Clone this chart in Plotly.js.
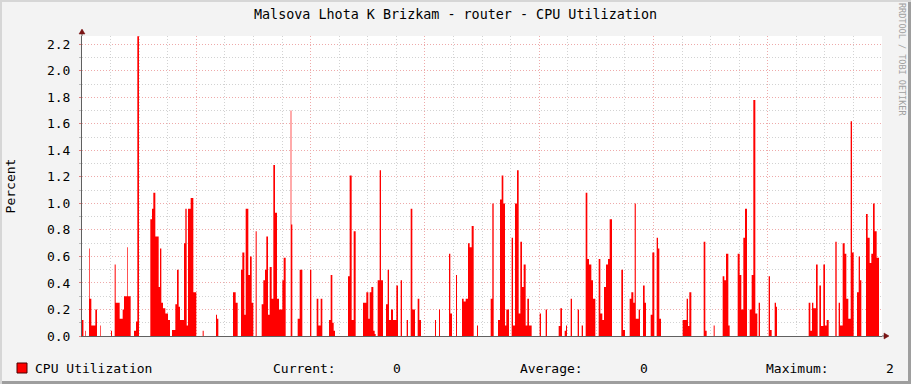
<!DOCTYPE html>
<html>
<head>
<meta charset="utf-8">
<script src="https://cdn.plot.ly/plotly-3.0.1.min.js"></script>
<style>
  html, body { margin: 0; padding: 0; background: #f3f3f3; }
  #wrap { position: relative; width: 911px; height: 384px; background: #f3f3f3;
          box-shadow: inset 2px 2px 0 #d6d6d6, inset -3px -3px 0 #9e9e9e; }
  #chart { position: absolute; left: 0; top: 0; width: 911px; height: 384px; }
</style>
</head>
<body>
<div id="wrap"><div id="chart"></div></div>
<script>
// Hours since Monday 00:00 where a new value starts (step function), and CPU % values
const monT = [0, 0.3, 0.7, 0.84, 1.47, 1.61, 1.96, 2.8, 3.15, 3.78, 3.92, 6.09, 6.3, 6.86, 7.07, 7.91, 8.54, 8.82, 9.52, 9.66, 10.22, 10.92, 11.34, 11.62, 11.97, 14.35, 14.7, 14.98, 15.4, 16.1, 16.38, 16.66, 17.01, 17.5, 18.06, 18.48, 18.9, 19.6, 19.95, 20.3, 20.58, 21.42, 21.7, 21.98, 22.26, 22.82, 23.38];
const monV = [0.12, 0, 0.04, 0, 0.66, 0.28, 0.08, 0.2, 0, 0.08, 0, 0.04, 0, 0.54, 0.25, 0.13, 0.2, 0.3, 0.67, 0.3, 0, 0.04, 0.11, 2.26, 0, 0.88, 0.96, 1.08, 0.75, 0.37, 0.66, 0.25, 0.21, 0.17, 0.12, 0, 0.045, 0.24, 0.5, 0.22, 0.12, 0.7, 0.96, 0.08, 0.96, 1.04, 0.33];

const tueT = [24.0, 25.34, 25.55, 28.14, 28.35, 28.63, 31.71, 32.27, 32.69, 33.39, 33.67, 34.09, 34.37, 34.93, 35.28, 35.63, 35.98, 36.47, 36.68, 37.73, 38.08, 38.43, 38.71, 39.06, 39.41, 39.83, 40.18, 40.53, 40.95, 41.37, 42.07, 42.35, 42.77, 43.82, 43.96, 44.17, 45.29, 45.71, 46.27, 47.88];
const tueV = [0, 0.04, 0, 0.16, 0.13, 0, 0.33, 0.25, 0, 0.5, 0.63, 0.16, 0.96, 0.46, 0.6, 0.25, 0, 0.79, 0, 0.24, 0.42, 0.5, 0.75, 0.16, 0.52, 0.28, 1.29, 0.93, 0.28, 0.2, 0.42, 0.59, 0, 1.7, 0.84, 0, 0.13, 0.5, 0, 0.5];

const wedT = [48.16, 49.28, 49.63, 50.12, 50.47, 51.87, 52.22, 52.57, 52.85, 53.13, 55.86, 56.21, 56.63, 57.05, 57.47, 59.01, 59.71, 60.13, 60.41, 60.76, 61.18, 61.46, 61.67, 62.09, 62.51, 62.79, 63.21, 63.84, 64.19, 64.47, 64.89, 65.31, 65.59, 66.01, 66.36, 66.92, 67.2, 68.18, 68.46, 69.02, 69.37, 69.93, 70.49, 70.84, 71.19];
const wedV = [0, 0.28, 0.08, 0.28, 0, 0.12, 0.46, 0.1, 0.04, 0, 0.45, 1.21, 0.12, 0.79, 0, 0.25, 0.33, 0.13, 0.33, 0.37, 0.04, 0.015, 0, 0.42, 1.25, 0.42, 0, 0.24, 0.5, 0.12, 0.2, 0.12, 0.12, 0.38, 0, 0.42, 0, 0.12, 0, 0.96, 0.2, 0, 0.28, 0.12, 0];

const thuT = [74.13, 74.34, 74.97, 75.18, 77.07, 77.35, 77.7, 78.54, 78.75, 79.8, 80.15, 80.57, 81.06, 81.41, 81.83, 82.25, 82.95, 83.16, 85.82, 86.17, 86.45, 87.36, 87.78, 88.13, 88.48, 88.83, 89.11, 89.67, 90.23, 90.51, 90.93, 91.35, 91.7, 92.05, 92.4, 92.75, 93.17, 93.52, 93.87, 94.43];
const thuV = [0.12, 0, 0.2, 0, 0.62, 0.17, 0, 0.46, 0, 0.28, 0.26, 0.28, 0.7, 0.67, 0.83, 0, 0.08, 0, 0.28, 1.0, 0, 0.12, 1.03, 1.21, 1.0, 0.08, 0.2, 0, 0.74, 0.08, 1.0, 1.25, 0.17, 0.71, 0.37, 0.54, 0.08, 0.28, 0.08, 0];

const friT = [96.11, 96.39, 97.37, 97.65, 100.1, 100.45, 100.8, 101.36, 101.64, 101.85, 102.62, 102.9, 104.09, 104.37, 104.93, 105.21, 105.77, 106.12, 106.47, 106.96, 107.31, 107.8, 108.5, 108.85, 109.27, 109.62, 110.04, 110.46, 110.81, 111.3, 113.26, 113.61, 114.03, 115.01, 115.36, 115.78, 116.06, 116.3, 116.9, 117.18, 117.81, 118.16, 118.44, 119.42, 119.77];
const friV = [0.17, 0, 0.2, 0, 0.075, 0.21, 0, 0.04, 0.08, 0, 0.28, 0, 0.2, 0, 0.08, 0, 1.08, 0.58, 0.54, 0.42, 0.28, 0, 0.58, 0.17, 0.12, 0.37, 0.54, 0.58, 0.88, 0, 0.5, 0.045, 0, 0.28, 0.33, 0.25, 1.0, 0.13, 0.2, 0, 0.38, 0.25, 0, 0.16, 0.63];

const satT = [120.19, 120.68, 120.96, 121.24, 121.59, 126.14, 126.98, 127.26, 127.54, 127.96, 130.55, 130.9, 131.18, 132.65, 132.86, 134.54, 134.89, 135.24, 135.73, 136.01, 137.69, 138.11, 138.46, 138.88, 139.23, 139.65, 140.21, 140.63, 140.98, 141.4, 141.82, 142.1, 142.38, 144.2];
const satV = [0, 0.74, 0.66, 0.13, 0, 0.12, 0.28, 0.075, 0.33, 0, 0.71, 0.04, 0, 0.08, 0, 0.45, 0.42, 0.62, 0.08, 0, 0.62, 0.46, 0.2, 0.74, 0.96, 0, 0.2, 0.46, 1.78, 0.17, 0, 0.25, 0, 0.45];

const sunT = [144.48, 144.83, 145.46, 145.74, 145.95, 152.6, 152.95, 153.3, 153.58, 154.14, 154.49, 154.84, 155.19, 155.68, 156.03, 156.38, 156.8, 158.2, 158.48, 158.9, 159.18, 159.74, 160.16, 160.51, 160.93, 161.42, 161.7, 162.05, 162.75, 163.1, 163.38, 163.66, 164.64, 164.99, 165.41, 165.76, 166.11, 166.46, 166.88, 167.37];
const sunV = [0.045, 0, 0.25, 0.22, 0, 0.25, 0.04, 0.25, 0.21, 0.54, 0, 0.38, 0.075, 0.54, 0.08, 0.12, 0, 0.71, 0, 0.25, 0.08, 0.7, 0.62, 0.28, 0.13, 1.62, 0.63, 0, 0.33, 0.6, 0.42, 0, 0.92, 0.74, 0.55, 0.62, 1.0, 0.79, 0.59, 0];

const dayNames = ['Mon', 'Tue', 'Wed', 'Thu', 'Fri', 'Sat', 'Sun'];
const dayNoon = [12, 36, 60, 84, 108, 132, 156];
const titleText = 'Malsova Lhota K Brizkam - router - CPU Utilization';
const seriesName = 'CPU Utilization';
const statCurrent = '0';
const statAverage = '0';
const statMaximum = '2';

const hours = [].concat(monT, tueT, wedT, thuT, friT, satT, sunT);
const cpu = [].concat(monV, tueV, wedV, thuV, friV, satV, sunV);

// plot area in page pixels: x 82..882, y 36..336
const PX = x => (x - 82) / 800;
const PY = y => (336 - y) / 300;

const FONT = 'DejaVu Sans Mono, monospace';
const majorGrid = '#eeaaaa';
const minorGrid = '#d2d2d2';
const axisCol = '#606060';
const arrowCol = '#7a1414';

const trace = {
  x: hours, y: cpu, type: 'scatter', mode: 'lines',
  line: { shape: 'hv', width: 0, color: '#ff0000' },
  fill: 'tozeroy', fillcolor: '#ff0000',
  hoverinfo: 'skip', showlegend: false, xaxis: 'x', yaxis: 'y'
};

const layout = {
  width: 911, height: 384,
  margin: { l: 82, r: 29, t: 36, b: 48, pad: 0 },
  paper_bgcolor: 'rgba(0,0,0,0)',
  plot_bgcolor: '#ffffff',
  font: { family: FONT, size: 13, color: '#000000' },
  showlegend: false,
  title: { text: titleText, font: { family: FONT, size: 13.4, color: '#000' },
           x: 0.5, xref: 'container', xanchor: 'center', y: 1 - 14 / 384, yref: 'container', yanchor: 'middle' },
  xaxis: {
    range: [0, 168], tickmode: 'linear', tick0: 0, dtick: 24,
    showticklabels: false, ticks: '',
    showgrid: true, gridcolor: majorGrid, griddash: '1px,2px', gridwidth: 1,
    minor: { tick0: 0, dtick: 6, showgrid: true, gridcolor: minorGrid, griddash: '1px,2px', gridwidth: 1, ticks: '' },
    showline: true, linecolor: axisCol, linewidth: 1, zeroline: false, fixedrange: true
  },
  xaxis2: {
    overlaying: 'x', anchor: 'y', side: 'bottom', range: [0, 168],
    tickmode: 'array', tickvals: dayNoon, ticktext: dayNames,
    ticks: 'outside', ticklen: 3, tickcolor: '#404040', tickwidth: 1,
    showgrid: false, zeroline: false, showline: false, fixedrange: true,
    tickfont: { family: FONT, size: 13, color: '#000' }
  },
  yaxis: {
    range: [0, 2.2624], tickmode: 'linear', tick0: 0, dtick: 0.2, tickformat: '.1f',
    showgrid: true, gridcolor: majorGrid, griddash: '1px,2px', gridwidth: 1,
    minor: { tick0: 0, dtick: 0.1, showgrid: true, gridcolor: minorGrid, griddash: '1px,2px', gridwidth: 1,
             ticks: 'outside', ticklen: 2, tickcolor: '#bbbbbb' },
    ticks: 'outside', ticklen: 2, tickcolor: '#e08080', tickwidth: 1,
    ticklabelstandoff: 6,
    showline: true, linecolor: axisCol, linewidth: 1, zeroline: false, fixedrange: true,
    tickfont: { family: FONT, size: 13, color: '#000' },
    title: { text: 'Percent', font: { family: FONT, size: 13, color: '#000' }, standoff: 28 },
    automargin: false
  },
  shapes: [
    { type: 'line', xref: 'paper', yref: 'paper', x0: 0, x1: 0, ysizemode: 'pixel', yanchor: 1, y0: 0, y1: 6,
      line: { color: axisCol, width: 1 } },
    { type: 'path', xref: 'paper', yref: 'paper', xsizemode: 'pixel', ysizemode: 'pixel', xanchor: 0, yanchor: 1,
      path: 'M-3,2 L3,2 L0,7 Z', fillcolor: arrowCol, line: { color: arrowCol, width: 0.5 } },
    { type: 'line', xref: 'paper', yref: 'paper', y0: 0, y1: 0, xsizemode: 'pixel', xanchor: 1, x0: 0, x1: 6,
      line: { color: axisCol, width: 1 } },
    { type: 'path', xref: 'paper', yref: 'paper', xsizemode: 'pixel', ysizemode: 'pixel', xanchor: 1, yanchor: 0,
      path: 'M2,-3 L2,3 L7,0 Z', fillcolor: arrowCol, line: { color: arrowCol, width: 0.5 } },
    { type: 'rect', xref: 'paper', yref: 'paper', x0: PX(17), x1: PX(27), y0: PY(373), y1: PY(363),
      fillcolor: '#ff0000', line: { color: '#4a0000', width: 1 } }
  ],
  annotations: [
    { text: seriesName, xref: 'paper', yref: 'paper', x: PX(33), y: PY(368), xanchor: 'left', yanchor: 'middle', showarrow: false, font: { family: FONT, size: 13, color: '#000' } },
    { text: 'Current:', xref: 'paper', yref: 'paper', x: PX(271), y: PY(368), xanchor: 'left', yanchor: 'middle', showarrow: false, font: { family: FONT, size: 13, color: '#000' } },
    { text: statCurrent, xref: 'paper', yref: 'paper', x: PX(391), y: PY(368), xanchor: 'left', yanchor: 'middle', showarrow: false, font: { family: FONT, size: 13, color: '#000' } },
    { text: 'Average:', xref: 'paper', yref: 'paper', x: PX(518), y: PY(368), xanchor: 'left', yanchor: 'middle', showarrow: false, font: { family: FONT, size: 13, color: '#000' } },
    { text: statAverage, xref: 'paper', yref: 'paper', x: PX(638), y: PY(368), xanchor: 'left', yanchor: 'middle', showarrow: false, font: { family: FONT, size: 13, color: '#000' } },
    { text: 'Maximum:', xref: 'paper', yref: 'paper', x: PX(764), y: PY(368), xanchor: 'left', yanchor: 'middle', showarrow: false, font: { family: FONT, size: 13, color: '#000' } },
    { text: statMaximum, xref: 'paper', yref: 'paper', x: PX(884), y: PY(368), xanchor: 'left', yanchor: 'middle', showarrow: false, font: { family: FONT, size: 13, color: '#000' } },
    { text: 'RRDTOOL / TOBI OETIKER', xref: 'paper', yref: 'paper', x: PX(902), y: PY(60), xanchor: 'center', yanchor: 'middle', textangle: 90, showarrow: false, font: { family: FONT, size: 8.5, color: '#a0a0a0' } }
  ]
};

Plotly.newPlot('chart', [trace], layout, { staticPlot: true, displayModeBar: false });
</script>
</body>
</html>
